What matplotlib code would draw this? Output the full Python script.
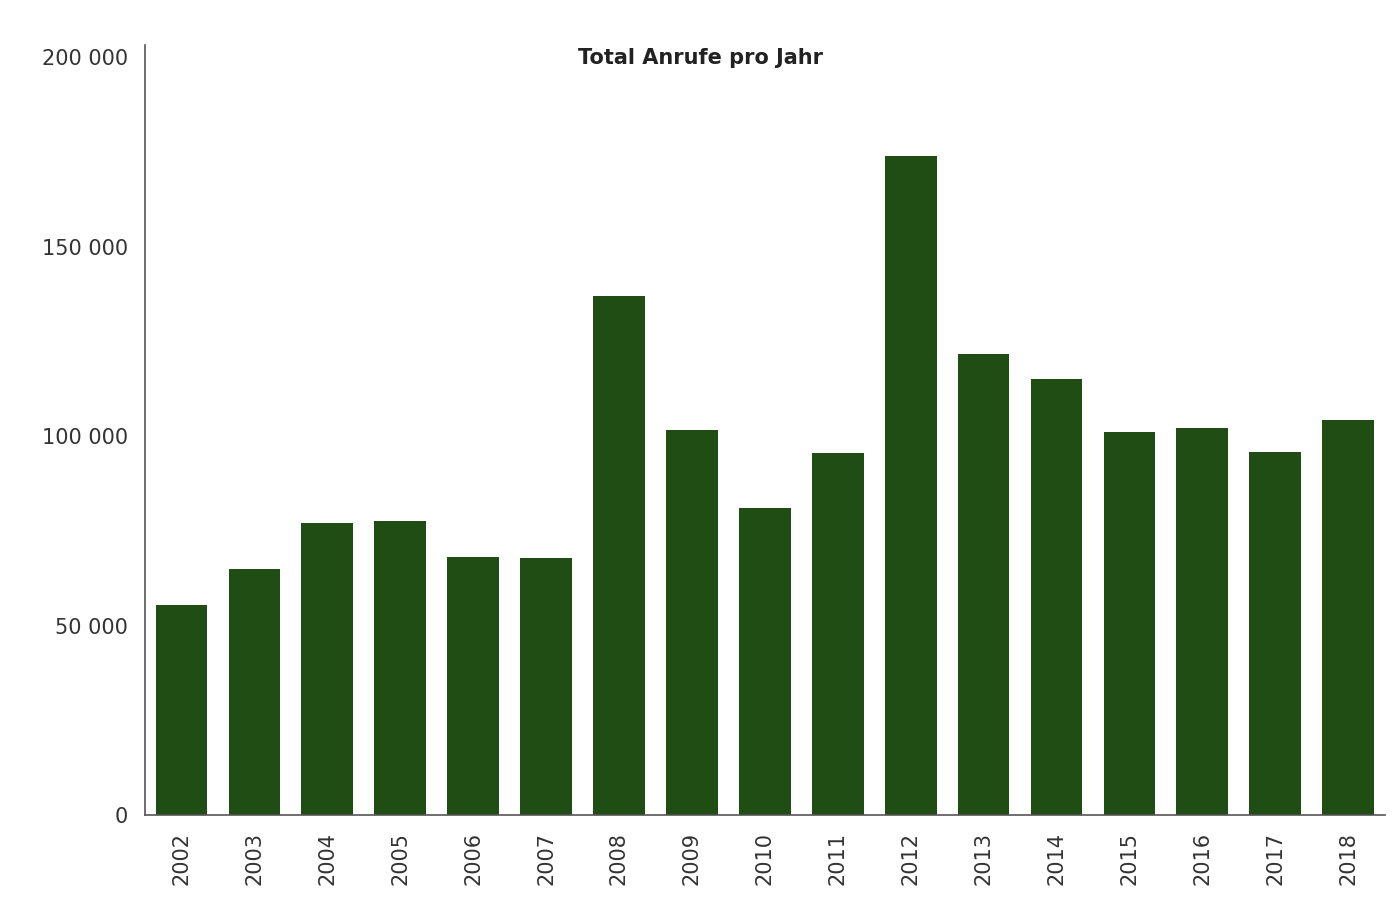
import matplotlib
matplotlib.use("Agg")
import matplotlib.pyplot as plt

# Daten
jahre = ["2002", "2003", "2004", "2005", "2006", "2007", "2008", "2009", "2010",
         "2011", "2012", "2013", "2014", "2015", "2016", "2017", "2018"]
anrufe = [55400, 64900, 77000, 77500, 68100, 67800, 136900, 101600, 81000,
          95500, 173900, 121600, 115000, 101000, 102100, 95800, 104200]

fig = plt.figure(figsize=(14, 9), dpi=100)
ax = fig.add_axes([0.1036, 0.0944, 0.8854, 0.8556])

ax.bar(range(len(jahre)), anrufe, width=0.71, color="#1f4d13")
ax.set_xlim(-0.5, len(jahre) - 0.5)
ax.set_ylim(0, 203166)

ax.set_yticks([0, 50000, 100000, 150000, 200000])
ax.set_yticklabels(["0", "50 000", "100 000", "150 000", "200 000"])
ax.set_xticks(range(len(jahre)))
ax.set_xticklabels(jahre, rotation=90)
ax.tick_params(axis="both", length=0, labelsize=15, colors="#333333", pad=12)

for s in ["top", "right"]:
    ax.spines[s].set_visible(False)
for s in ["left", "bottom"]:
    ax.spines[s].set_color("#555555")
    ax.spines[s].set_linewidth(1.2)

fig.text(0.5, 0.935, "Total Anrufe pro Jahr", ha="center", va="center",
         fontsize=15, fontweight="bold", family="Liberation Sans Narrow",
         color="#222222")

fig.savefig("out.png", dpi=100)
